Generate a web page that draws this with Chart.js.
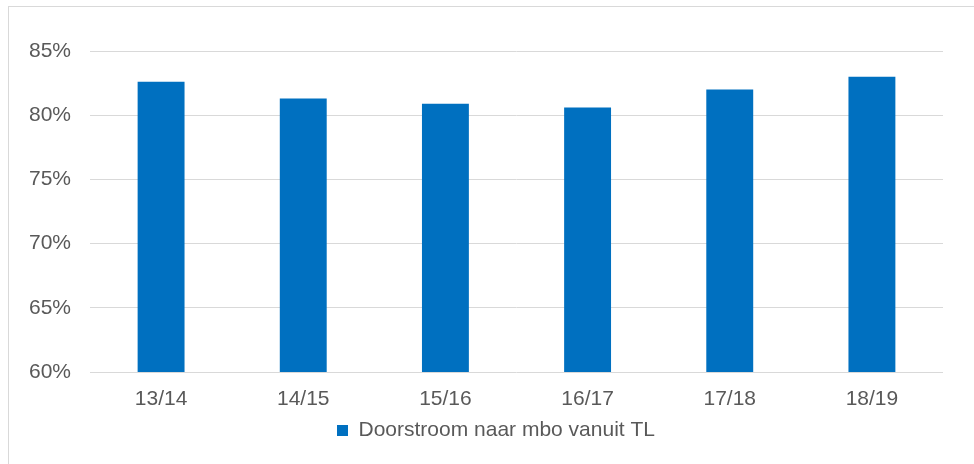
<!DOCTYPE html>
<html>
<head>
<meta charset="utf-8">
<script src="https://cdn.jsdelivr.net/npm/chart.js@4"></script>
<style>
  html, body { margin: 0; padding: 0; background: #fff; overflow: hidden; }
  #frame {
    position: absolute; left: 8px; top: 6px;
    width: 974px; height: 464px;
    border: 1px solid #d9d9d9;
  }
  canvas { display: block; }
</style>
</head>
<body>
<div id="frame"><canvas id="chart" width="974" height="464"></canvas></div>
<script>
const schoolYears = ["13/14", "14/15", "15/16", "16/17", "17/18", "18/19"];
const seriesName = "Doorstroom naar mbo vanuit TL";
const doorstroomValues = [82.6, 81.3, 80.9, 80.6, 82.0, 83.0];
const yTicks = [60, 65, 70, 75, 80, 85];

const textColor = "#595959";
const barColor = "#0070c0";
const gridColor = "#d9d9d9";

Chart.defaults.font.family = "'Liberation Sans', Arial, sans-serif";
Chart.defaults.color = textColor;

const chartConfig = {
  type: "bar",
  data: {
    labels: schoolYears,
    datasets: [{
      label: seriesName,
      data: doorstroomValues,
      backgroundColor: barColor,
      barPercentage: 0.33,
      categoryPercentage: 1
    }]
  },
  options: {
    responsive: false,
    animation: false,
    layout: { padding: { top: 44, left: 0, right: 0, bottom: 20 } },
    plugins: {
      tooltip: { enabled: false },
      legend: {
        position: "bottom",
        labels: {
          boxWidth: 11,
          boxHeight: 11,
          padding: 8,
          font: { size: 21 },
          color: textColor
        }
      }
    },
    scales: {
      x: {
        grid: { display: false },
        border: { display: false },
        ticks: { font: { size: 21 }, padding: 7, maxRotation: 0 },
        afterFit: (scale) => { scale.height = 40; }
      },
      y: {
        min: 60,
        max: 85,
        afterBuildTicks: (scale) => { scale.ticks = yTicks.map(v => ({ value: v })); },
        grid: { color: gridColor, lineWidth: 1, drawTicks: false },
        border: { display: false },
        ticks: {
          font: { size: 21 },
          padding: 19,
          callback: (v) => v + "%"
        },
        afterFit: (scale) => { scale.width = 81; }
      },
      yRight: {
        position: "right",
        display: true,
        grid: { display: false },
        border: { display: false },
        ticks: { display: false },
        afterFit: (scale) => { scale.width = 40; }
      }
    }
  }
};

new Chart(document.getElementById("chart"), chartConfig);
</script>
</body>
</html>
